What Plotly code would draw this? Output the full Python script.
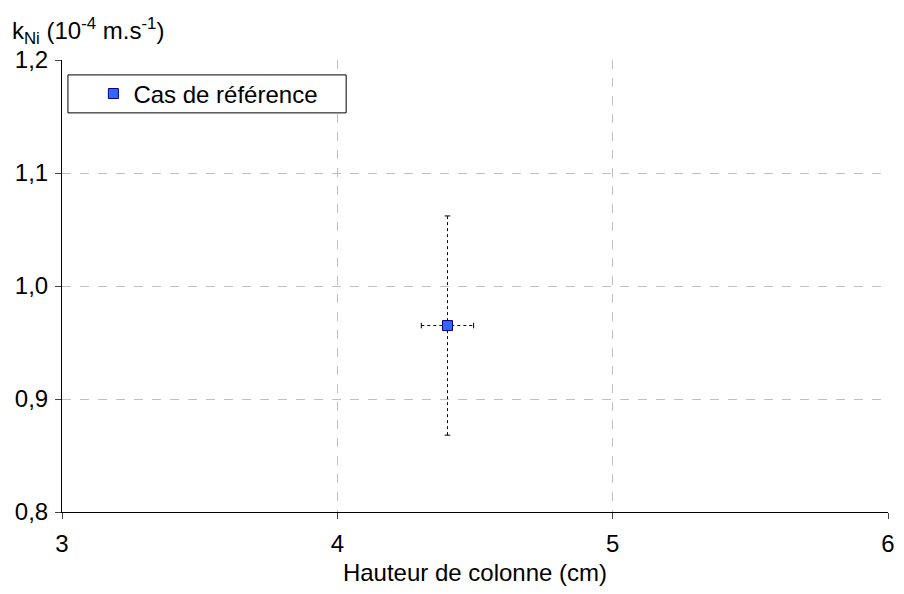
import plotly.graph_objects as go

# data
hauteur = [4.4]
k_ni = [0.965]
err_h = [0.095]
err_k = [0.097]
x_ticks = [3, 4, 5, 6]
y_ticks = [0.8, 0.9, 1.0, 1.1, 1.2]
y_labels = ['0,8', '0,9', '1,0', '1,1', '1,2']

fig = go.Figure()

# dotted error bars built from the data
for x, y, ex, ey in zip(hauteur, k_ni, err_h, err_k):
    fig.add_trace(go.Scatter(
        x=[x, x], y=[y - ey, y + ey], mode='lines+markers',
        line=dict(color='black', width=1, dash='dot'),
        marker=dict(symbol='line-ew', size=4, line=dict(color='black', width=1)),
        showlegend=False, hoverinfo='skip'))
    fig.add_trace(go.Scatter(
        x=[x - ex, x + ex], y=[y, y], mode='lines+markers',
        line=dict(color='black', width=1, dash='dot'),
        marker=dict(symbol='line-ns', size=4, line=dict(color='black', width=1)),
        showlegend=False, hoverinfo='skip'))

fig.add_trace(go.Scatter(
    x=hauteur, y=k_ni, mode='markers', name='Cas de référence',
    marker=dict(symbol='square', size=10, color='#3366FF',
                line=dict(color='#000080', width=1))))

fig.update_layout(
    width=888, height=578,
    margin=dict(l=54, r=8, t=52, b=74),
    paper_bgcolor='white', plot_bgcolor='white',
    font=dict(family='Liberation Sans, Arial', size=24, color='black'),
    showlegend=True,
    legend=dict(x=0.038, y=0.925, xanchor='left', yanchor='middle',
                borderwidth=0, bgcolor='rgba(0,0,0,0)',
                font=dict(size=24), itemwidth=30),
    shapes=[dict(type='rect', xref='paper', yref='paper',
                 x0=0.0072, x1=0.344, y0=0.883, y1=0.967,
                 line=dict(color='black', width=1), fillcolor='white', layer='above')],
    annotations=[dict(
        text='k<sub>Ni</sub> (10<sup>-4</sup> m.s<sup>-1</sup>)',
        xref='paper', yref='paper', x=0, y=1, xshift=-52, yshift=10,
        xanchor='left', yanchor='bottom', showarrow=False,
        font=dict(size=24))],
)

fig.update_xaxes(
    range=[3, 6], tickvals=x_ticks, ticks='outside', ticklen=6, ticklabelstandoff=4,
    automargin=False, ticklabeloverflow='allow',
    showline=True, linecolor='black', linewidth=1,
    showgrid=True, gridcolor='#c0c0c0', griddash='dash', zeroline=False,
    title=dict(text='Hauteur de colonne (cm)', font=dict(size=24), standoff=12))
fig.update_yaxes(
    range=[0.8, 1.2], tickvals=y_ticks, ticktext=y_labels, ticks='outside', ticklen=6,
    ticklabelstandoff=2, automargin=False, ticklabeloverflow='allow',
    showline=True, linecolor='black', linewidth=1,
    showgrid=True, gridcolor='#c0c0c0', griddash='dash', zeroline=False)

fig.write_html("out.html")
